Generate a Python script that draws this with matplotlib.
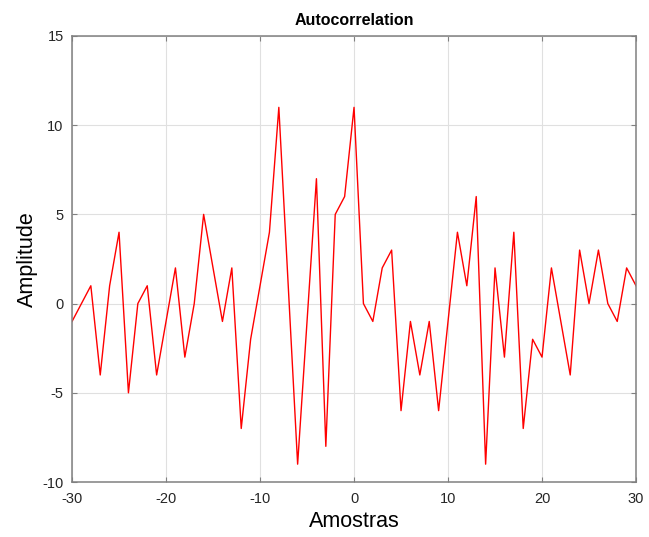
import matplotlib
matplotlib.use('Agg')
import matplotlib.pyplot as plt

lags = list(range(-30, 31))
amplitude = [-1, 0, 1, -4, 1, 4, -5, 0, 1, -4,
             -1, 2, -3, 0, 5, 2, -1, 2, -7, -2,
             1, 4, 11, 1, -9, -1, 7, -8, 5, 6,
             11,
             0, -1, 2, 3, -6, -1, -4, -1, -6, -1,
             4, 1, 6, -9, 2, -3, 4, -7, -2, -3,
             2, -1, -4, 3, 0, 3, 0, -1, 2, 1]

plt.rcParams['font.family'] = ['Liberation Sans', 'DejaVu Sans']
plt.rcParams['axes.unicode_minus'] = False

fig = plt.figure(figsize=(6.49, 5.37), dpi=100)
ax = fig.add_axes([0.111, 0.1024, 0.869, 0.8306])

ax.plot(lags, amplitude, color='red', linewidth=1)
ax.set_xlim(-30, 30)
ax.set_ylim(-10, 15)
ax.set_xticks(range(-30, 31, 10))
ax.set_yticks(range(-10, 16, 5))

ax.grid(True, color='#e0e0e0', linewidth=0.8)
ax.set_axisbelow(True)
ax.tick_params(direction='in', top=True, right=True, labelsize=10.5,
               labelcolor='#262626', color='#808080', length=3.5, width=0.8)
ax.tick_params(axis='x', pad=7)
ax.tick_params(axis='y', pad=6)
for s in ax.spines.values():
    s.set_color('#808080')
    s.set_linewidth(1.1)

ax.set_title('Autocorrelation', fontsize=11.5, fontweight='bold', pad=8)
ax.set_xlabel('Amostras', fontsize=15.5, labelpad=4)
ax.set_ylabel('Amplitude', fontsize=15.5, labelpad=3)

fig.savefig('out.png', dpi=100)
